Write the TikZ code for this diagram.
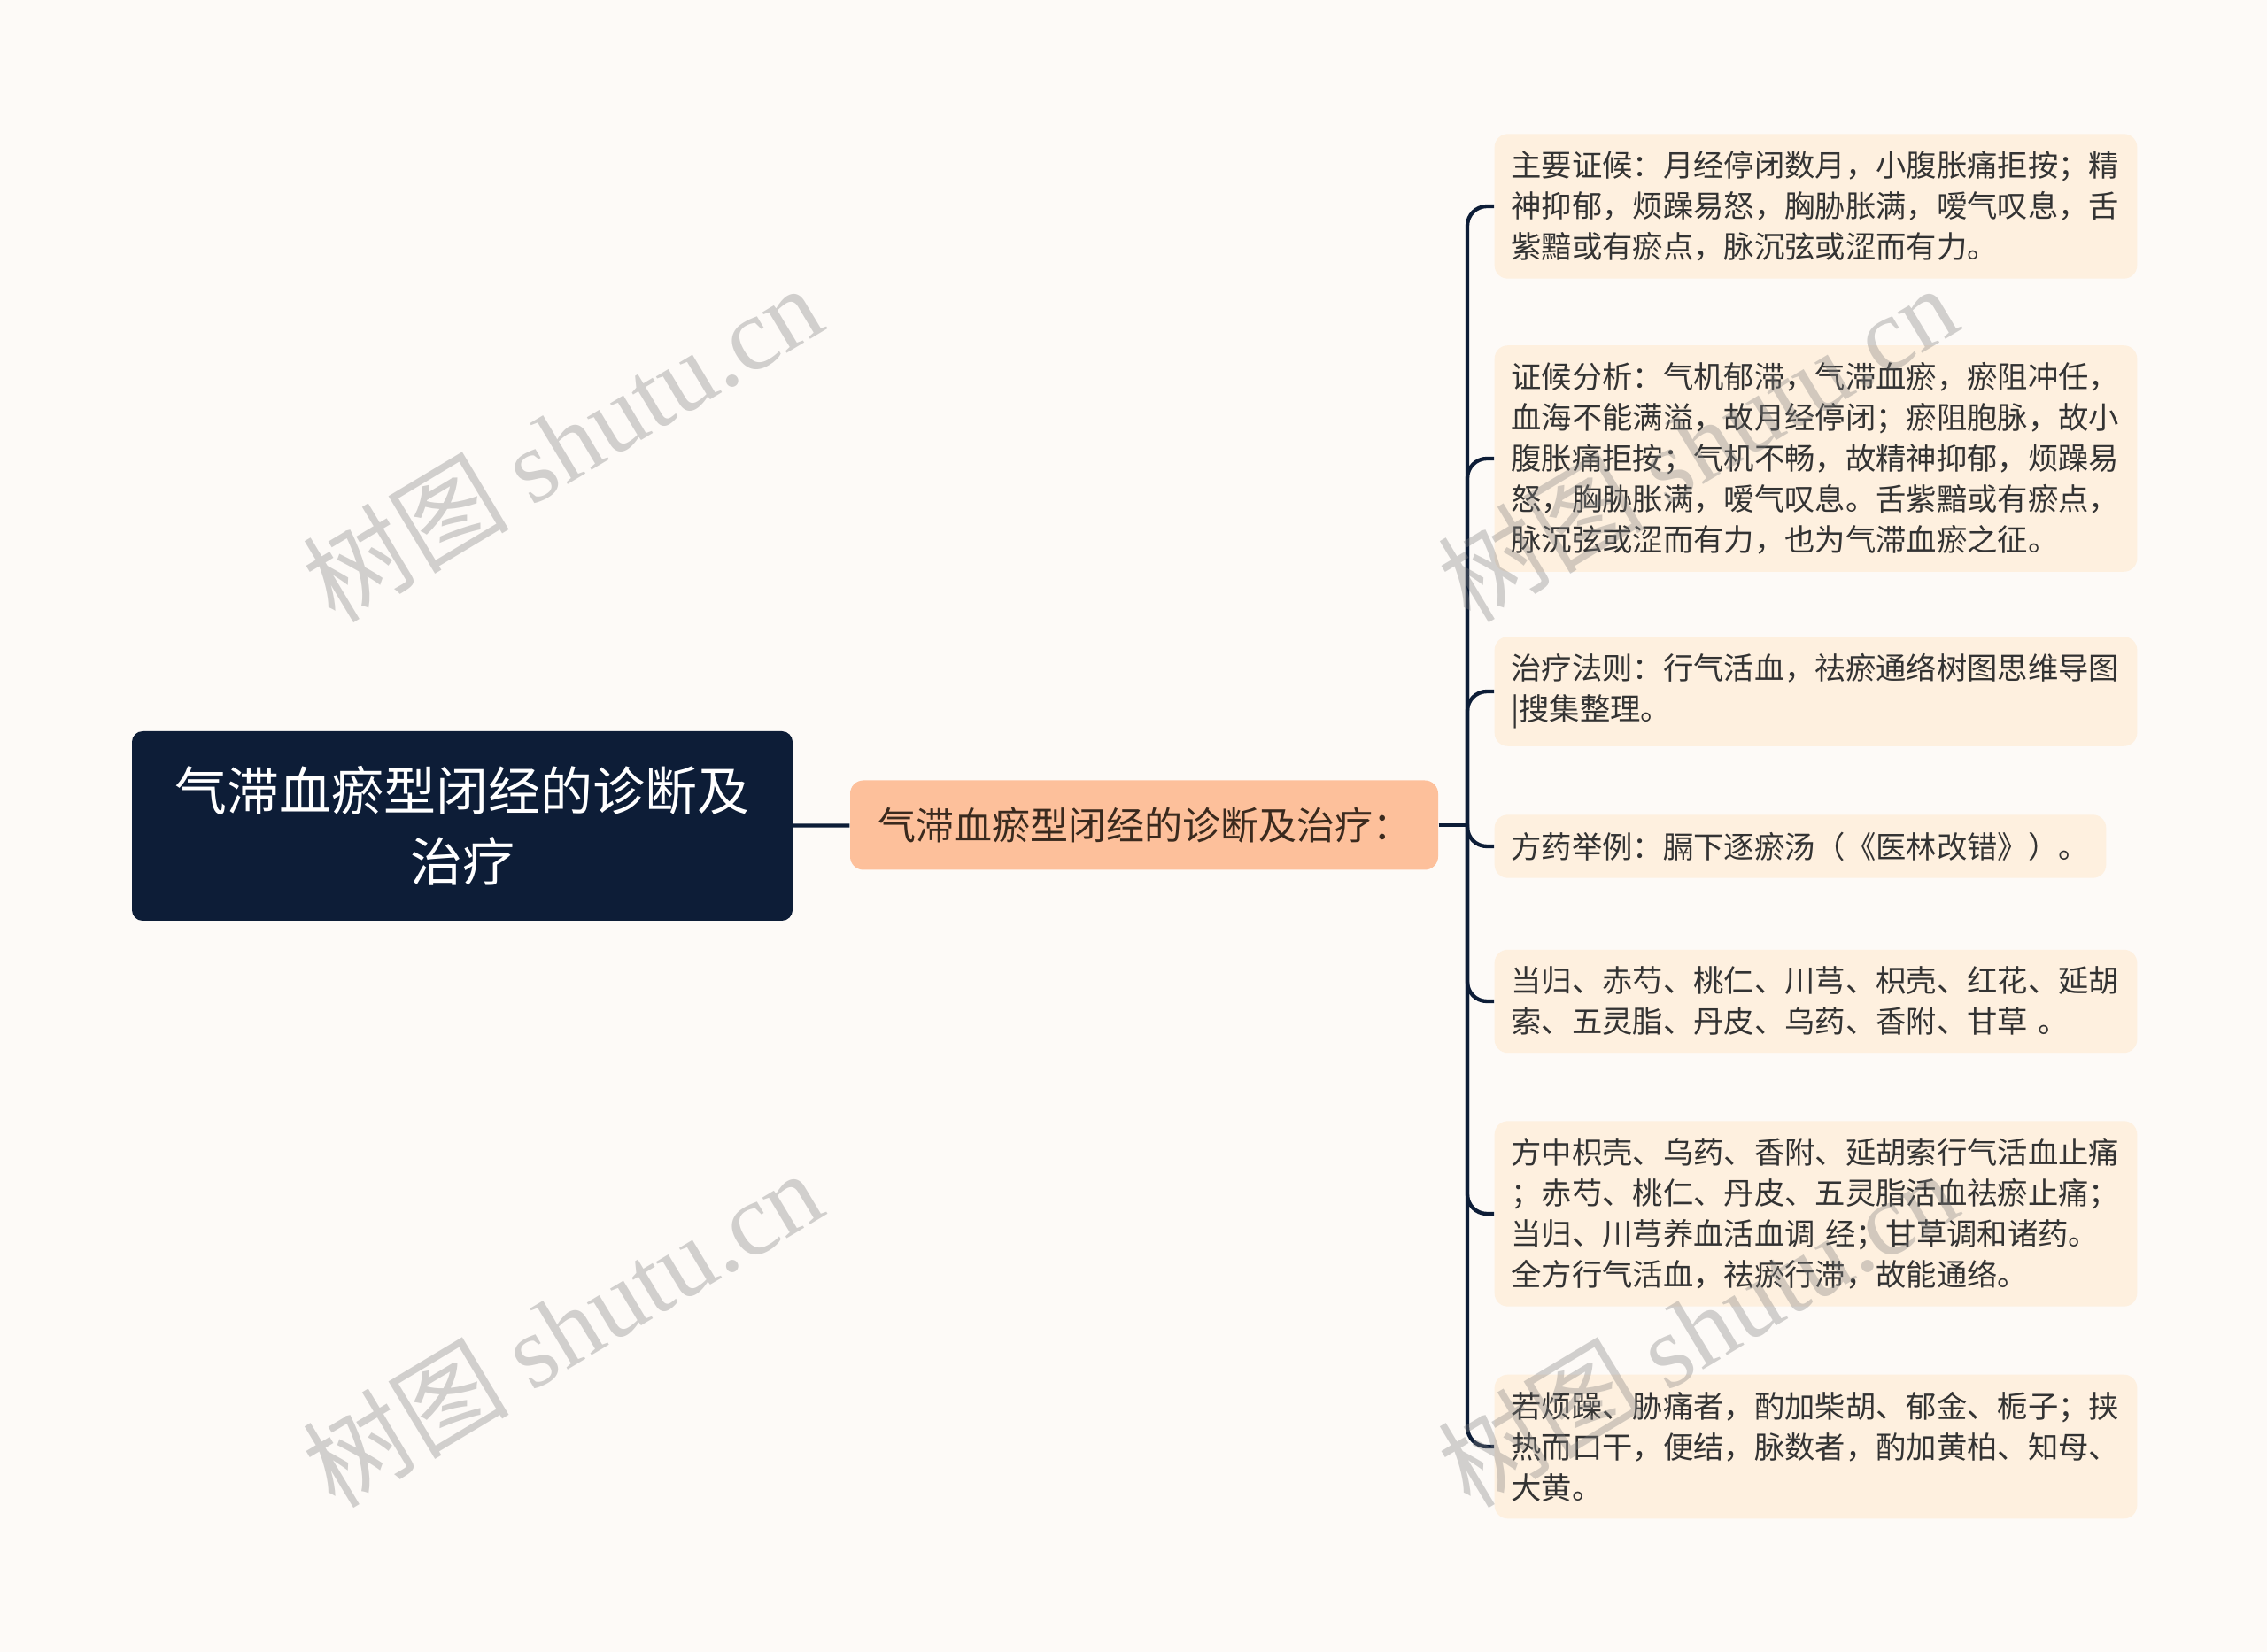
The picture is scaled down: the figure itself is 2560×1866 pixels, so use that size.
\documentclass[tikz,border=0pt]{standalone}
\usepackage{fontspec}
\setmainfont{Noto Sans CJK SC}
\newfontfamily\markserif{Liberation Serif}
\usepackage{xcolor}
\usepackage{tikz}

\definecolor{pagebg}{HTML}{FDFAF7}
\definecolor{navy}{HTML}{0D1D37}
\definecolor{peach}{HTML}{FDC09B}
\definecolor{cream}{HTML}{FEF0DF}
\definecolor{leaftext}{HTML}{333333}
\definecolor{midtext}{HTML}{3A2A1E}

\begin{document}
\begin{tikzpicture}[
        x=0.3pt, y=-0.3pt,
        topic/.style={rectangle, rounded corners=3.6pt, fill=navy, text=white, align=center, minimum width=223.8pt, minimum height=64.2pt, font=\fontsize{17.7pt}{24pt}\selectfont},
        subtopic/.style={rectangle, rounded corners=4.5pt, fill=peach, text=midtext, minimum width=199.2pt, minimum height=30.3pt, font=\fontsize{12.9pt}{15pt}\selectfont},
        leaf/.style={rectangle, rounded corners=4.5pt, fill=cream, text=leaftext, anchor=west, align=left, text width=206.5pt, inner xsep=5.6pt, inner ysep=5.8pt, font=\fontsize{10.3pt}{13.8pt}\selectfont},
        link/.style={draw=navy, line width=1.3pt},
        watermark/.style={anchor=base west, rotate=31, text=gray, text opacity=0.35, font=\fontsize{35pt}{35pt}\selectfont}
    ]
        \fill[pagebg] (0,0) rectangle (2560,1866);
        \useasboundingbox (0,0) rectangle (2560,1866);

        \node[topic] (root) at (522,933) {气滞血瘀型闭经的诊断及\\治疗};
        \node[subtopic] (mid) at (1292,932) {气滞血瘀型闭经的诊断及治疗：};
        \coordinate (hub) at (1657,932);

        \node[leaf] (leaf1) at (1687,233) {主要证候：月经停闭数月，小腹胀痛拒按；精\\神抑郁，烦躁易怒，胸胁胀满，嗳气叹息，舌\\紫黯或有瘀点，脉沉弦或涩而有力。};
        \node[leaf] (leaf2) at (1687,518) {证候分析：气机郁滞，气滞血瘀，瘀阻冲任，\\血海不能满溢，故月经停闭；瘀阻胞脉，故小\\腹胀痛拒按；气机不畅，故精神抑郁，烦躁易\\怒，胸胁胀满，嗳气叹息。舌紫黯或有瘀点，\\脉沉弦或涩而有力，也为气滞血瘀之征。};
        \node[leaf] (leaf3) at (1687,781) {治疗法则：行气活血，祛瘀通络树图思维导图\\|搜集整理。};
        \node[leaf, text width=196pt] (leaf4) at (1687,956) {方药举例：膈下逐瘀汤（《医林改错》）。};
        \node[leaf] (leaf5) at (1687,1131) {当归、赤芍、桃仁、川芎、枳壳、红花、延胡\\索、五灵脂、丹皮、乌药、香附、甘草 。};
        \node[leaf] (leaf6) at (1687,1371) {方中枳壳、乌药、香附、延胡索行气活血止痛\\；赤芍、桃仁、丹皮、五灵脂活血祛瘀止痛；\\当归、川芎养血活血调 经；甘草调和诸药。\\全方行气活血，祛瘀行滞，故能通络。};
        \node[leaf] (leaf7) at (1687,1634) {若烦躁、胁痛者，酌加柴胡、郁金、栀子；挟\\热而口干，便结，脉数者，酌加黄柏、知母、\\大黄。};

        \draw[link] (root) -- (mid);
        \draw[link] (mid) -- (hub);
        \foreach \n in {1,...,7}
            \draw[link, rounded corners=6.6pt] (hub) |- (leaf\n.west);

        % watermarks
        \node[watermark] (wm1) at (368,712) {树图 {\markserif shutu.cn}};
        \node[watermark] (wm2) at (1650,712) {树图 {\markserif shutu.cn}};
        \node[watermark] (wm3) at (368,1712) {树图 {\markserif shutu.cn}};
        \node[watermark] (wm4) at (1650,1712) {树图 {\markserif shutu.cn}};
    \end{tikzpicture}
\end{document}
